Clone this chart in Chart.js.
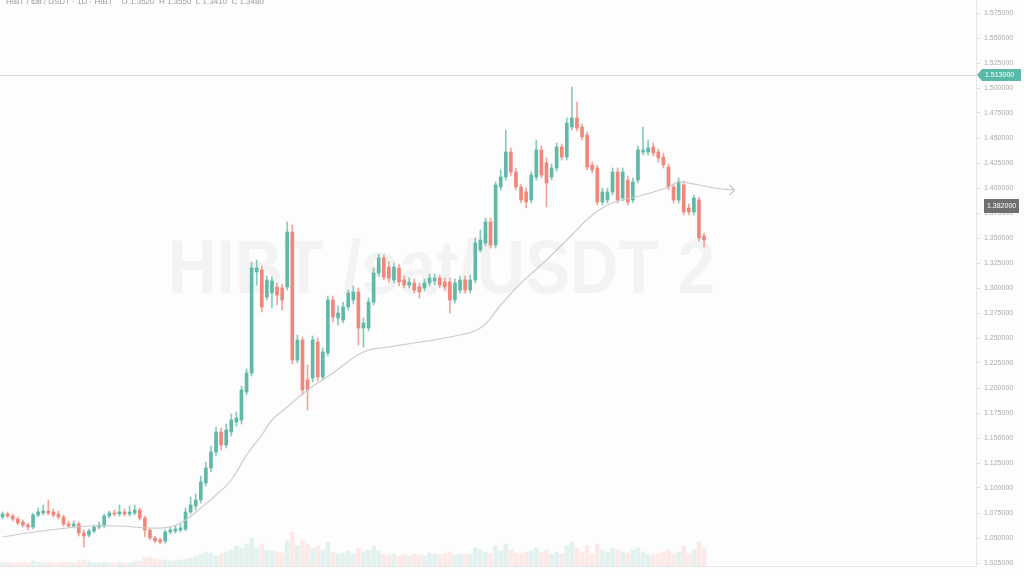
<!DOCTYPE html>
<html><head><meta charset="utf-8">
<script src="https://cdn.jsdelivr.net/npm/chart.js@4.4.1/dist/chart.umd.min.js"></script>
<style>html,body{margin:0;padding:0;background:#fdfdfd;overflow:hidden}#wrap{width:1024px;height:576px;position:relative}canvas{display:block}</style>
</head><body><div id="wrap"><canvas id="c" width="1024" height="576" style="width:1024px;height:576px"></canvas></div>
<script>
// ---- data ----
const slotCount = 192;
const categories = Array.from({length: slotCount}, (_, i) => 'D' + (i + 1));
const opens = [1.071,1.074,1.072,1.069,1.066,1.063,1.061,1.073,1.075,1.077,
1.076,1.074,1.071,1.064,1.062,1.064,1.055,1.053,1.057,1.061,
1.062,1.072,1.075,1.074,1.076,1.074,1.075,1.078,1.070,1.058,
1.050,1.048,1.047,1.056,1.057,1.058,1.059,1.076,1.082,1.088,
1.105,1.120,1.136,1.156,1.143,1.156,1.166,1.168,1.196,1.215,
1.316,1.318,1.291,1.295,1.301,1.300,1.301,1.356,1.228,1.248,
1.208,1.210,1.246,1.211,1.235,1.288,1.270,1.268,1.281,1.288,
1.296,1.260,1.260,1.286,1.315,1.330,1.321,1.308,1.320,1.308,
1.303,1.305,1.301,1.300,1.305,1.307,1.310,1.306,1.306,1.288,
1.298,1.308,1.298,1.308,1.338,1.345,1.366,1.343,1.401,1.411,
1.436,1.416,1.401,1.396,1.388,1.411,1.438,1.425,1.411,1.420,
1.441,1.431,1.461,1.470,1.461,1.453,1.423,1.420,1.386,1.388,
1.396,1.416,1.390,1.408,1.388,1.408,1.436,1.436,1.441,1.436,
1.431,1.421,1.401,1.388,1.403,1.380,1.376,1.388,1.352];
const highs = [1.076,1.076,1.074,1.071,1.068,1.065,1.075,1.080,1.083,1.088,
1.079,1.077,1.073,1.067,1.067,1.066,1.058,1.059,1.063,1.066,
1.074,1.077,1.078,1.083,1.079,1.082,1.083,1.080,1.072,1.060,
1.052,1.050,1.058,1.061,1.062,1.064,1.080,1.091,1.094,1.112,
1.126,1.142,1.161,1.160,1.164,1.174,1.176,1.202,1.219,1.326,
1.328,1.322,1.312,1.311,1.305,1.304,1.366,1.363,1.253,1.251,
1.223,1.252,1.250,1.240,1.292,1.292,1.282,1.286,1.298,1.302,
1.300,1.270,1.290,1.320,1.334,1.333,1.326,1.325,1.324,1.312,
1.310,1.309,1.305,1.309,1.314,1.314,1.313,1.310,1.310,1.309,
1.312,1.312,1.313,1.350,1.358,1.370,1.370,1.406,1.418,1.458,
1.440,1.420,1.404,1.400,1.416,1.448,1.442,1.430,1.424,1.445,
1.444,1.470,1.501,1.486,1.464,1.456,1.426,1.423,1.400,1.400,
1.420,1.420,1.420,1.412,1.410,1.442,1.461,1.448,1.445,1.439,
1.435,1.424,1.404,1.410,1.407,1.384,1.393,1.391,1.355];
const lows = [1.069,1.070,1.067,1.063,1.061,1.058,1.059,1.071,1.073,1.073,
1.071,1.069,1.062,1.060,1.060,1.052,1.041,1.051,1.055,1.059,
1.060,1.070,1.072,1.072,1.072,1.072,1.073,1.068,1.051,1.048,
1.045,1.044,1.045,1.054,1.055,1.056,1.057,1.074,1.078,1.085,
1.102,1.116,1.132,1.138,1.140,1.152,1.162,1.164,1.193,1.212,
1.303,1.276,1.288,1.280,1.283,1.278,1.298,1.224,1.225,1.193,
1.178,1.206,1.207,1.208,1.232,1.266,1.263,1.265,1.278,1.284,
1.243,1.241,1.257,1.283,1.312,1.308,1.306,1.305,1.302,1.300,
1.300,1.295,1.290,1.297,1.302,1.303,1.300,1.298,1.275,1.285,
1.295,1.295,1.295,1.305,1.336,1.342,1.340,1.340,1.398,1.408,
1.412,1.398,1.385,1.380,1.385,1.408,1.410,1.381,1.408,1.417,
1.428,1.428,1.458,1.457,1.448,1.418,1.415,1.383,1.383,1.385,
1.393,1.385,1.387,1.383,1.385,1.405,1.433,1.433,1.432,1.426,
1.420,1.398,1.385,1.385,1.373,1.373,1.373,1.347,1.341];
const closes = [1.074,1.072,1.069,1.065,1.063,1.061,1.073,1.076,1.077,1.075,
1.073,1.071,1.064,1.062,1.064,1.055,1.052,1.057,1.061,1.063,
1.072,1.075,1.074,1.076,1.074,1.076,1.078,1.070,1.058,1.050,
1.047,1.046,1.056,1.058,1.059,1.060,1.076,1.083,1.088,1.106,
1.120,1.136,1.156,1.143,1.158,1.168,1.170,1.198,1.215,1.320,
1.320,1.281,1.308,1.307,1.293,1.288,1.356,1.228,1.248,1.198,
1.198,1.248,1.211,1.236,1.288,1.271,1.275,1.281,1.295,1.296,
1.260,1.265,1.286,1.315,1.330,1.311,1.310,1.321,1.306,1.303,
1.306,1.298,1.296,1.305,1.310,1.310,1.303,1.301,1.288,1.305,
1.308,1.298,1.308,1.345,1.348,1.366,1.343,1.403,1.411,1.436,
1.416,1.401,1.388,1.386,1.413,1.438,1.413,1.405,1.420,1.441,
1.431,1.465,1.470,1.460,1.451,1.421,1.418,1.386,1.396,1.396,
1.416,1.388,1.416,1.386,1.406,1.438,1.438,1.440,1.435,1.430,
1.423,1.401,1.388,1.406,1.376,1.376,1.390,1.350,1.348];
const volumes = [3,4,3,3,4,3,5,4,3,4,3,3,4,4,3,5,6,4,3,3,4,3,3,4,3,3,4,5,
8,9,7,6,6,5,5,6,7,8,9,
12,14,13,10,12,14,16,20,18,22,
28,18,22,16,15,14,13,25,34,20,26,22,
18,20,16,24,14,12,13,15,12,18,14,16,20,15,
12,11,12,10,11,10,12,11,10,13,12,11,12,14,11,12,11,12,18,16,
14,12,20,15,22,16,13,12,14,15,18,14,16,12,14,12,20,24,
18,14,20,12,22,16,14,18,16,14,13,16,18,14,12,11,12,14,16,12,14,20,12,16,24,18];
const maSlots = [0,5,11,17,23,29,33,36,39,42,45,48,51,53,56,60,65,71,76,81,88,94,98,102,107,112,116,120,126,131,133,137,140,144];
const maValues = [1.051,1.055,1.059,1.062,1.062,1.060,1.061,1.068,1.080,1.093,1.108,1.133,1.153,1.168,1.181,1.198,1.215,1.236,1.241,1.245,1.251,1.260,1.283,1.305,1.328,1.353,1.373,1.385,1.393,1.401,1.406,1.403,1.400,1.398];
const xTickSlots = [0,14,24,25,28,32,40,49,56,62,69,76,83,84,89,93,97,101,115,121,126,131,141,148,152,162,175,186,189];
const xTickText = ['4','Jul 2024','1','12','21','Aug 5','Sep 4','1','2024','1','Dec 21','3','Jan','1','Feb','1','2025','Mar','Jun 25','Apr','1','Jul 21','1','Aug','1','11 2025','30','Dec','3'];
const priceLine = 1.513;
const markerPrice = 1.382;
const watermarkText = 'HIBT /sat/USDT 2';
const headerText = 'HIBT / sat / USDT · 1D · HIBT    O 1.3520  H 1.3550  L 1.3410  C 1.3480';

// MA series laid on the category slots (gaps between read points are spanned by the library)
const maSeries = new Array(maSlots[maSlots.length - 1] + 1).fill(null);
maSlots.forEach((s, k) => { maSeries[s] = maValues[k]; });

// ---- styling ----
const upC = '#5fb9a6', downC = '#f2867a';
const bodyColors = opens.map((o, i) => closes[i] >= o ? upC : downC);
const wickColors = opens.map((o, i) => closes[i] >= o ? 'rgba(95,185,166,0.75)' : 'rgba(242,134,122,0.75)');
const volColors = opens.map((o, i) => closes[i] >= o ? 'rgba(95,185,166,0.16)' : 'rgba(242,134,122,0.16)');
const fmt = v => v.toFixed(6);

const bgPlugin = {
  id: 'bg',
  beforeDraw(chart) {
    const ctx = chart.ctx;
    ctx.save(); ctx.fillStyle = '#fdfdfd'; ctx.fillRect(0, 0, chart.width, chart.height); ctx.restore();
  },
  beforeDatasetsDraw(chart) {
    const ctx = chart.ctx, a = chart.chartArea;
    ctx.save();
    ctx.font = 'bold 52px "Liberation Sans"';
    const w = ctx.measureText(watermarkText).width;
    ctx.translate(168, 293);
    ctx.scale(547 / w, 1.45);
    ctx.fillStyle = 'rgba(0,0,0,0.04)';
    ctx.textBaseline = 'alphabetic';
    ctx.fillText(watermarkText, 0, 0);
    ctx.restore();
    const y = chart.scales.y.getPixelForValue(priceLine);
    ctx.save(); ctx.strokeStyle = '#dcdcdc'; ctx.lineWidth = 1;
    ctx.beginPath(); ctx.moveTo(a.left, Math.round(y) + 0.5); ctx.lineTo(a.right, Math.round(y) + 0.5); ctx.stroke();
    ctx.restore();
  },
  afterDatasetsDraw(chart) {
    const ctx = chart.ctx;
    const pts = chart.getDatasetMeta(0).data;
    const p = pts[pts.length - 1];
    ctx.save(); ctx.strokeStyle = '#c8c8c8'; ctx.lineWidth = 1.2;
    ctx.beginPath(); ctx.moveTo(p.x - 5, p.y - 5); ctx.lineTo(p.x, p.y); ctx.lineTo(p.x - 5, p.y + 5); ctx.stroke();
    ctx.restore();
  },
  afterDraw(chart) {
    const ctx = chart.ctx, a = chart.chartArea, ys = chart.scales.y;
    ctx.save();
    ctx.font = '8px "Liberation Sans"'; ctx.fillStyle = '#9a9a9a'; ctx.textBaseline = 'alphabetic';
    ctx.fillText(headerText, 6, 4);
    let y = ys.getPixelForValue(priceLine);
    ctx.fillStyle = '#5ab8a8';
    ctx.beginPath();
    ctx.moveTo(a.right + 1, y); ctx.lineTo(a.right + 6, y - 6); ctx.lineTo(1021, y - 6); ctx.lineTo(1021, y + 6); ctx.lineTo(a.right + 6, y + 6); ctx.closePath(); ctx.fill();
    ctx.fillStyle = '#ffffff'; ctx.font = '7px "Liberation Sans"'; ctx.textBaseline = 'middle';
    ctx.fillText(fmt(priceLine), a.right + 9, y + 0.5);
    y = ys.getPixelForValue(markerPrice);
    ctx.fillStyle = '#6f6f6f';
    ctx.fillRect(a.right + 8, y - 7, 1019 - a.right - 8, 14);
    ctx.fillStyle = '#ffffff';
    ctx.fillText(fmt(markerPrice), a.right + 11, y + 0.5);
    ctx.restore();
  }
};

new Chart(document.getElementById('c'), {
  data: {
    labels: categories,
    datasets: [
      { type: 'line', label: 'MA', data: maSeries, spanGaps: true,
        borderColor: '#cdcdcd', borderWidth: 1.2, pointRadius: 0, tension: 0.4, order: 0, yAxisID: 'y' },
      { type: 'bar', label: 'Body', data: opens.map((o, i) => [Math.min(o, closes[i]), Math.max(o, closes[i])]),
        backgroundColor: bodyColors, barThickness: 3, grouped: false, minBarLength: 1, order: 1, yAxisID: 'y' },
      { type: 'bar', label: 'Wick', data: opens.map((o, i) => [lows[i], highs[i]]),
        backgroundColor: wickColors, barThickness: 1, grouped: false, order: 2, yAxisID: 'y' },
      { type: 'bar', label: 'Volume', data: volumes, backgroundColor: volColors,
        barThickness: 4, grouped: false, order: 3, yAxisID: 'yv' }
    ]
  },
  options: {
    responsive: false, animation: false, maintainAspectRatio: false, devicePixelRatio: 1,
    layout: { padding: 0 },
    plugins: { legend: { display: false }, tooltip: { enabled: false }, title: { display: false } },
    scales: {
      x: {
        type: 'category', offset: true,
        grid: { display: false },
        border: { display: true, color: '#e6e6e6' },
        ticks: { autoSkip: false, maxRotation: 0, minRotation: 0, padding: 1, color: '#ababab',
          font: { size: 7, family: 'Liberation Sans' },
          callback: (v, i) => { const k = xTickSlots.indexOf(i); return k >= 0 ? xTickText[k] : ''; } },
        afterFit: s => { s.height = 10; s.paddingLeft = 0; s.paddingRight = 0; }
      },
      y: {
        type: 'linear', position: 'right', min: 1.022, max: 1.588,
        grid: { drawOnChartArea: false, tickLength: 4, color: '#dddddd' },
        border: { display: true, color: '#e6e6e6' },
        ticks: { stepSize: 0.025, includeBounds: false, maxTicksLimit: 40, padding: 4, color: '#ababab',
          font: { size: 7, family: 'Liberation Sans' }, callback: v => fmt(v) },
        afterFit: s => { s.width = 48; s.paddingTop = 0; s.paddingBottom = 0; }
      },
      yv: { type: 'linear', display: false, min: 0, max: 566 }
    }
  },
  plugins: [bgPlugin]
});
</script>
</body></html>
